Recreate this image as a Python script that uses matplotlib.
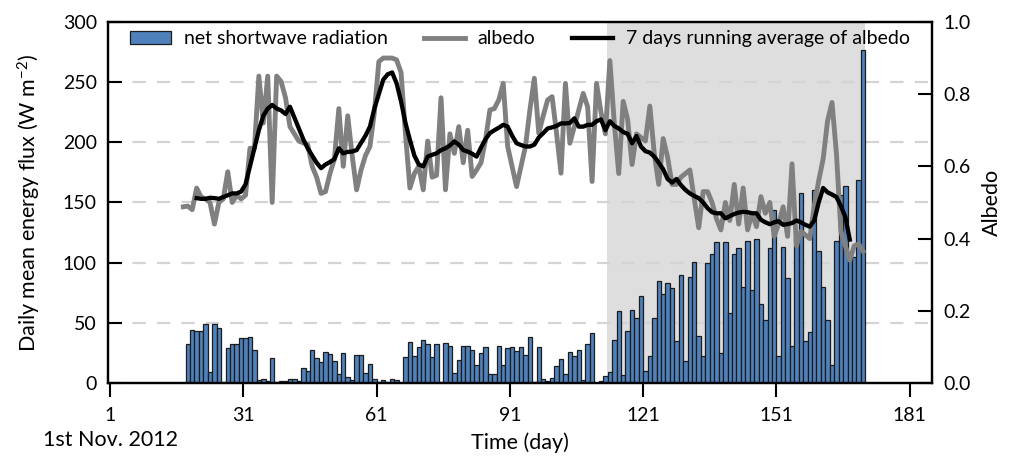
import numpy as np
import matplotlib
matplotlib.use('Agg')
import matplotlib.pyplot as plt
from matplotlib.lines import Line2D
from matplotlib.patches import Patch

plt.rcParams['font.family'] = ['Lato', 'DejaVu Sans']
plt.rcParams['mathtext.fontset'] = 'custom'
plt.rcParams['mathtext.rm'] = 'Lato'
plt.rcParams['mathtext.it'] = 'Lato:italic'

# daily net shortwave radiation (W m-2), days 18..170
first_bar_day = 18
radiation = [32, 43.6, 43, 43, 49, 9.4, 49, 46, 1, 29,
             32, 32, 37, 37, 38.6, 27, 2.8, 3.3, 2, 20.5,
             0.5, 2, 2, 3.3, 3.3, 2, 12.5, 9.7, 27.8, 20.5,
             17.2, 26, 24, 18, 7.5, 24.7, 4.7, 2.5, 23.3, 23.3,
             8.3, 15.8, 3.3, 1, 2.5, 1, 3.3, 2.5, 0.3, 21.4,
             34.4, 22.8, 29.7, 36, 32, 21.4, 32, 0.5, 33, 30.8,
             8.3, 19, 30.5, 30.5, 27.8, 15, 24.7, 29.7, 7.2, 7.2,
             31, 15, 29, 29.7, 26.7, 29.7, 23.6, 38.6, 0.5, 29.7,
             3.3, 2, 4.2, 13.9, 20, 7.5, 25.6, 22.8, 27.8, 2.5,
             32, 41.7, 0.3, 1.5, 6, 9, 36, 59.5, 7, 43,
             60.5, 54, 72, 10, 22, 54, 85, 74, 83, 78.7,
             35, 90, 18, 88, 100.8, 39, 22, 99.5, 107, 117.5,
             24.5, 117, 58, 107, 112, 80, 118, 77, 120, 66,
             52, 112, 143.6, 22, 113, 87.5, 30.5, 121, 157.5, 34.7,
             42.5, 160, 110, 80, 52, 15, 118, 156, 164, 108,
             105, 169, 277]

# daily albedo, days 17..170
first_albedo_day = 17
albedo = [0.488, 0.49, 0.48, 0.54, 0.515, 0.51, 0.5, 0.44, 0.5, 0.51,
          0.585, 0.5, 0.52, 0.51, 0.52, 0.65, 0.65, 0.85, 0.72, 0.85,
          0.5, 0.85, 0.835, 0.79, 0.71, 0.69, 0.67, 0.665, 0.66, 0.6,
          0.57, 0.525, 0.53, 0.58, 0.62, 0.76, 0.6, 0.74, 0.63, 0.535,
          0.59, 0.63, 0.655, 0.75, 0.89, 0.9, 0.9, 0.9, 0.895, 0.86,
          0.69, 0.54, 0.58, 0.6, 0.535, 0.67, 0.57, 0.575, 0.79, 0.535,
          0.69, 0.636, 0.71, 0.61, 0.7, 0.572, 0.59, 0.61, 0.673, 0.756,
          0.76, 0.784, 0.83, 0.655, 0.6, 0.544, 0.6, 0.655, 0.756, 0.844,
          0.692, 0.74, 0.784, 0.793, 0.692, 0.581, 0.83, 0.664, 0.71, 0.756,
          0.802, 0.765, 0.558, 0.83, 0.75, 0.69, 0.893, 0.72, 0.58, 0.78,
          0.73, 0.605, 0.69, 0.68, 0.67, 0.767, 0.635, 0.55, 0.677, 0.625,
          0.55, 0.55, 0.57, 0.58, 0.59, 0.51, 0.43, 0.53, 0.53, 0.5,
          0.455, 0.424, 0.5, 0.45, 0.55, 0.44, 0.54, 0.424, 0.47, 0.433,
          0.516, 0.47, 0.5, 0.406, 0.442, 0.488, 0.406, 0.607, 0.38, 0.42,
          0.41, 0.4, 0.49, 0.56, 0.62, 0.726, 0.777, 0.635, 0.42, 0.38,
          0.34, 0.38, 0.385, 0.365]

# 7 day running average of albedo, days 20..167
first_avg_day = 20
albedo_avg = [0.512, 0.51, 0.51, 0.513, 0.512, 0.51, 0.515, 0.52, 0.525, 0.525,
              0.53, 0.55, 0.6, 0.65, 0.7, 0.74, 0.76, 0.77, 0.76, 0.755,
              0.745, 0.765, 0.735, 0.705, 0.675, 0.65, 0.63, 0.61, 0.595, 0.605,
              0.612, 0.62, 0.65, 0.636, 0.64, 0.641, 0.645, 0.665, 0.685, 0.71,
              0.76, 0.8, 0.84, 0.855, 0.86, 0.83, 0.78, 0.72, 0.673, 0.63,
              0.605, 0.6, 0.627, 0.632, 0.636, 0.645, 0.65, 0.658, 0.669, 0.66,
              0.645, 0.641, 0.635, 0.627, 0.652, 0.675, 0.692, 0.7, 0.707, 0.715,
              0.71, 0.685, 0.664, 0.659, 0.655, 0.655, 0.66, 0.68, 0.692, 0.705,
              0.708, 0.712, 0.719, 0.719, 0.72, 0.733, 0.71, 0.71, 0.715, 0.715,
              0.725, 0.73, 0.7, 0.725, 0.712, 0.705, 0.695, 0.69, 0.664, 0.684,
              0.655, 0.642, 0.638, 0.627, 0.61, 0.592, 0.565, 0.555, 0.565, 0.548,
              0.535, 0.525, 0.518, 0.512, 0.5, 0.484, 0.473, 0.47, 0.47, 0.456,
              0.462, 0.468, 0.472, 0.474, 0.473, 0.47, 0.47, 0.452, 0.445, 0.44,
              0.445, 0.448, 0.438, 0.44, 0.443, 0.45, 0.445, 0.438, 0.433, 0.45,
              0.5, 0.54, 0.528, 0.522, 0.515, 0.49, 0.46, 0.397]

# melting period (shaded)
melt_period = (112.8, 171)

xticks = [1, 31, 61, 91, 121, 151, 181]

bar_color = '#4f81bd'
shade_color = '#dedede'
grid_color = '#d4d4d4'
label_size = 15.5
tick_size = 14

fig = plt.figure(figsize=(10.19, 4.57), dpi=100)
ax = fig.add_axes([0.106, 0.162, 0.8086, 0.79])

bar_days = np.arange(first_bar_day, first_bar_day + len(radiation))
albedo_days = np.arange(first_albedo_day, first_albedo_day + len(albedo)) + 0.5
avg_days = np.arange(first_avg_day, first_avg_day + len(albedo_avg)) + 0.5

ax.axvspan(melt_period[0], melt_period[1], color=shade_color, zorder=0, lw=0)
for y in range(50, 300, 50):
    ax.axhline(y, color=grid_color, lw=1.6, dashes=(6, 5), zorder=0.5)
ax.bar(bar_days, radiation, width=1, align='edge', color=bar_color,
       edgecolor='#1c1c1c', linewidth=0.9, zorder=2)

ax.set_xlim(0.55, 186)
ax.set_ylim(0, 300)
ax.set_xticks(xticks)
ax.set_yticks(range(0, 301, 50))
ax.tick_params(axis='x', direction='out', length=10, width=1.5, labelsize=tick_size, pad=7)
ax.tick_params(axis='y', direction='in', length=10, width=1.5, labelsize=tick_size, pad=8)
ax.set_ylabel('Daily mean energy flux (W m$^{-2}$)', fontsize=label_size, labelpad=14)
ax.set_xlabel('Time (day)', fontsize=label_size, labelpad=6)
for s in ax.spines.values():
    s.set_linewidth(1.6)

ax2 = ax.twinx()
ax2.plot(albedo_days, albedo, color='#808080', lw=3.5, solid_joinstyle='round', zorder=3)
ax2.plot(avg_days, albedo_avg, color='black', lw=3.1, solid_joinstyle='round', zorder=4)
ax2.set_ylim(0, 1.0)
ax2.set_yticks(np.arange(0, 1.01, 0.2))
ax2.set_yticklabels(['%.1f' % v for v in np.arange(0, 1.01, 0.2)])
ax2.tick_params(axis='y', direction='in', length=10, width=1.5, labelsize=tick_size, pad=8)
ax2.set_ylabel('Albedo', fontsize=label_size, labelpad=8)
for s in ax2.spines.values():
    s.set_linewidth(1.6)

ax.text(1, -0.158, '1st Nov. 2012', transform=ax.get_xaxis_transform(),
        ha='center', va='center', fontsize=label_size)

handles = [Patch(facecolor=bar_color, edgecolor='#1c1c1c', linewidth=0.9),
           Line2D([], [], color='#808080', lw=3.5),
           Line2D([], [], color='black', lw=3.1)]
labels = ['net shortwave radiation', 'albedo', '7 days running average of albedo']
ax2.legend(handles, labels, loc='upper center', bbox_to_anchor=(0.5, 1.025), ncol=3,
           frameon=False, fontsize=14, handlelength=2.1, columnspacing=1.9,
           handletextpad=0.65)

fig.savefig('out.png', dpi=100)
